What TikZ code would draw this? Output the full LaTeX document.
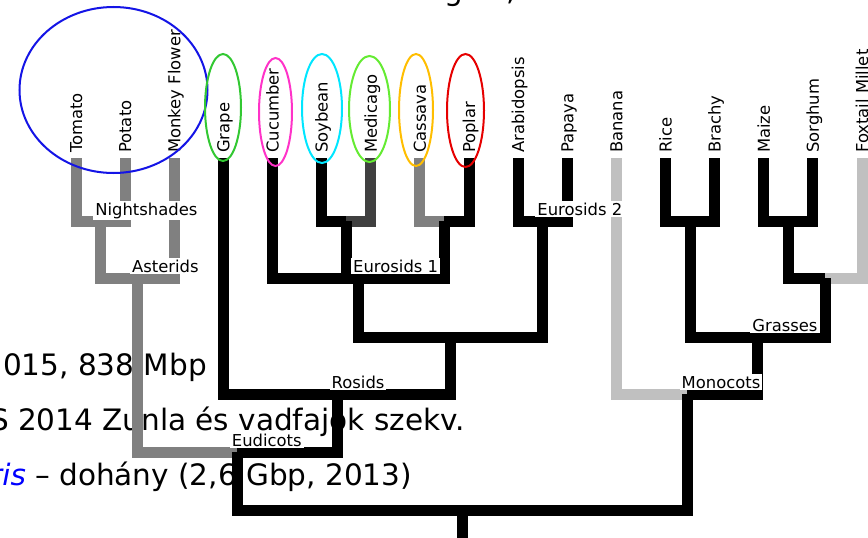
\documentclass[tikz,border=0pt]{standalone}
\usepackage{fontspec}
\setmainfont{DejaVu Sans}
\usepackage{tikz}
\usetikzlibrary{calc}

\definecolor{astergray}{HTML}{808080}
\definecolor{medigray}{HTML}{404040}
\definecolor{monogray}{HTML}{C0C0C0}
\definecolor{ringblue}{RGB}{20,20,230}
\definecolor{ringgreen}{RGB}{50,200,50}
\definecolor{ringlime}{RGB}{100,235,50}
\definecolor{ringpink}{RGB}{255,50,200}
\definecolor{ringcyan}{RGB}{0,230,255}
\definecolor{ringorange}{RGB}{255,190,0}
\definecolor{ringred}{RGB}{230,0,0}

\begin{document}
\begin{tikzpicture}[x=1pt,y=-1pt,
  br/.style={line width=11pt, line join=miter},
  leaf/.style={rotate=90, anchor=base west, inner sep=0pt, font=\fontsize{16.4pt}{18pt}\selectfont},
  clade/.style={anchor=base west, fill=white, inner sep=2pt, font=\fontsize{16.4pt}{18pt}\selectfont},
  slide/.style={anchor=base east, inner sep=0pt, font=\fontsize{29.5pt}{32pt}\selectfont},
  ring/.style={line width=2pt}]
\useasboundingbox (0,0) rectangle (868,538);
\clip (0,0) rectangle (868,538);
\fill[white] (0,0) rectangle (868,538);

% slide text behind the tree
\node[slide, anchor=base west] (top1) at (444,0.5) {g};
\node[slide, anchor=base west] (top2) at (506,0.5) {,};
\node[slide] (line1) at (207,375) {2015, 838 Mbp};
\node[slide] (line2) at (465,430) {S 2014 Zunla és vadfajok szekv.};
\node[slide, anchor=base west] (line3) at (-10,485) {\textcolor{blue}{\itshape ris} – dohány (2,6 Gbp, 2013)};

% leaves
\foreach \nm/\txt [count=\i from 0] in {tomato/Tomato, potato/Potato, monkey/Monkey Flower,
    grape/Grape, cucumber/Cucumber, soybean/Soybean, medicago/Medicago, cassava/Cassava,
    poplar/Poplar, arabidopsis/Arabidopsis, papaya/Papaya, banana/Banana, rice/Rice,
    brachy/Brachy, maize/Maize, sorghum/Sorghum, foxtail/Foxtail Millet}{
  \coordinate (\nm) at ({76+49.125*\i},158);
  \node[leaf] (\nm-t) at ({82+49.125*\i},153) {\txt};
}

% clades
\coordinate (night) at (100.6,221);
\coordinate (aster) at (137.4,278);
\coordinate (sm) at (346.2,221);
\coordinate (cp) at (444.4,221);
\coordinate (eur1) at (358.5,278);
\coordinate (eur2) at (542.7,221);
\coordinate (e12) at (450.6,337);
\coordinate (ros) at (337,394);
\coordinate (eud) at (237.2,452);
\coordinate (rb) at (690.1,221);
\coordinate (ms) at (788.3,221);
\coordinate (msf) at (825.1,278);
\coordinate (grass) at (757.6,337);
\coordinate (mono) at (687,394);
\coordinate (root) at (462.1,510);
\coordinate (base) at (462.1,540);

% Asterids
\draw[br, astergray] (tomato) |- (night);
\draw[br, astergray] (potato) |- (night);
\draw[br, astergray] (night) |- (aster);
\draw[br, astergray] (monkey) |- (aster);
\draw[br, astergray] (aster) |- (eud);

% Rosids
\draw[br] (grape) |- (ros);
\draw[br] (cucumber) |- (eur1);
\draw[br] (soybean) |- (sm);
\draw[br, medigray] (medicago) |- (sm);
\draw[br] (sm) |- (eur1);
\draw[br, astergray] (cassava) |- (cp);
\draw[br] (poplar) |- (cp);
\draw[br] (cp) |- (eur1);
\draw[br] (arabidopsis) |- (eur2);
\draw[br] (papaya) |- (eur2);
\draw[br] (eur1) |- (e12);
\draw[br] (eur2) |- (e12);
\draw[br] (e12) |- (ros);
\draw[br] (ros) |- (eud);

% Monocots
\draw[br, monogray] (banana) |- (mono);
\draw[br] (rice) |- (rb);
\draw[br] (brachy) |- (rb);
\draw[br] (maize) |- (ms);
\draw[br] (sorghum) |- (ms);
\draw[br] (ms) |- (msf);
\draw[br, monogray] (foxtail) |- (msf);
\draw[br] (rb) |- (grass);
\draw[br] (msf) |- (grass);
\draw[br] (grass) |- (mono);

% root
\draw[br] (eud) |- (root);
\draw[br] (mono) |- (root);
\draw[br] (root) -- (base);

% clade labels
\node[clade] (night-l) at ($(night)+(-7.5,-6)$) {Nightshades};
\node[clade] (aster-l) at ($(aster)+(-7.5,-6)$) {Asterids};
\node[clade] (eur1-l) at ($(eur1)+(-7.5,-6)$) {Eurosids 1};
\node[clade] (eur2-l) at ($(eur2)+(-7.5,-6)$) {Eurosids 2};
\node[clade] (ros-l) at ($(ros)+(-7.5,-6)$) {Rosids};
\node[clade] (eud-l) at ($(eud)+(-7.5,-6)$) {Eudicots};
\node[clade] (grass-l) at ($(grass)+(-7.5,-6)$) {Grasses};
\node[clade] (mono-l) at ($(mono)+(-7.5,-6)$) {Monocots};

% rings
\draw[ring, ringblue] (113.5,90) ellipse [x radius=94, y radius=83];
\draw[ring, ringgreen] (223,107.5) ellipse [x radius=18, y radius=53.5];
\draw[ring, ringpink] (275.5,112) ellipse [x radius=16.5, y radius=54];
\draw[ring, ringcyan] (322,108.5) ellipse [x radius=20, y radius=54.5];
\draw[ring, ringlime] (369.5,109) ellipse [x radius=20.5, y radius=53];
\draw[ring, ringorange] (416,110) ellipse [x radius=17, y radius=56];
\draw[ring, ringred] (465.5,110.5) ellipse [x radius=18.5, y radius=56.5];

\end{tikzpicture}
\end{document}
